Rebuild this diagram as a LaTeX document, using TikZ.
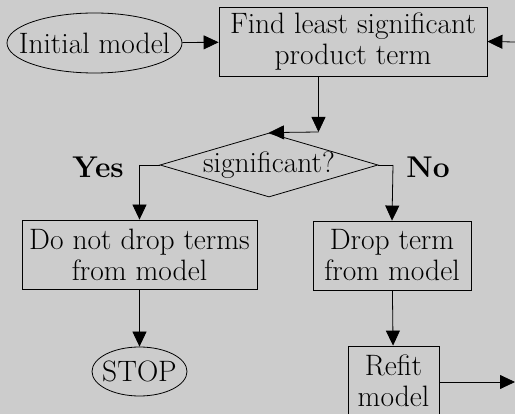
\documentclass[tikz,border=0pt]{standalone}
\usetikzlibrary{shapes.geometric,arrows.meta}
\definecolor{bg}{HTML}{CCCCCC}
\begin{document}
\begin{tikzpicture}[x=1pt,y=-1pt,
  every node/.style={font=\fontsize{29.5}{31}\selectfont, align=center, inner sep=0pt, line width=0.8pt},
  box/.style={draw, rectangle, anchor=center},
  oval/.style={draw, ellipse, anchor=center},
  dia/.style={draw, diamond, anchor=center},
  lab/.style={font=\fontsize{30}{32}\selectfont\bfseries},
  conn/.style={line width=0.8pt, -{Triangle[length=15pt,width=14pt]}},
  plain/.style={line width=0.8pt}]
\fill[bg] (0,0) rectangle (515,414);
\useasboundingbox (0,0) rectangle (515,414);
\clip (0,0) rectangle (515,414);
\node[oval, minimum width=175, minimum height=60] (init) at (94.5,43) {\makebox[0pt]{Initial model}};
\node[box, minimum width=268, minimum height=69] (find) at (353,41.5) {Find least significant\\product term};
\node[dia, minimum width=218, minimum height=64] (sig) at (269,165) {\makebox[0pt]{significant?}};
\node[lab] (yes) at (98,167) {Yes};
\node[lab] (no) at (428,167) {No};
\node[box, minimum width=235, minimum height=69] (keep) at (139.5,254.5) {Do not drop terms\\from model};
\node[box, minimum width=158, minimum height=69] (drop) at (392,255.5) {Drop term\\from model};
\node[oval, minimum width=95, minimum height=49] (stop) at (139.5,371.5) {\makebox[0pt]{STOP}};
\node[box, minimum width=91, minimum height=70] (refit) at (393.5,381) {Refit\\model};
\coordinate (bend) at (318.5,132);
\coordinate (inR) at (515,42);
\coordinate (outR) at (515,382);
\coordinate (yl) at (139.5,165);
\coordinate (nr) at (393,165);
\draw[conn] (init) -- (find);
\draw[conn] (inR) -- (find.east);
\draw[conn] (find.south -| bend) -- (bend);
\draw[conn] (bend) -- (sig.north);
\draw[plain] (sig.west) -- (yl);
\draw[conn] (yl) -- (keep.north);
\draw[plain] (sig.east) -- (nr);
\draw[conn] (nr) -- (drop.north);
\draw[conn] (keep) -- (stop);
\draw[conn] (drop) -- (refit);
\draw[conn] (refit.east |- outR) -- (outR);
\end{tikzpicture}
\end{document}
